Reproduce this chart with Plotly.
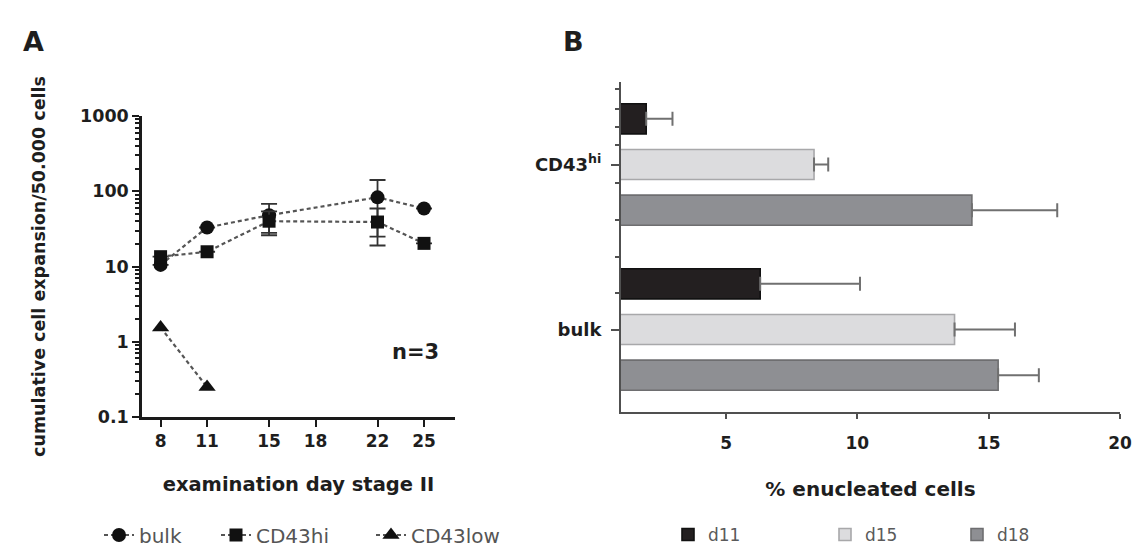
import math
import plotly.graph_objects as go

# ---------------- data: panel A ----------------
days = [8, 11, 15, 22, 25]
bulk = [10.5, 33, 48, 83, 59]
bulk_err = [0, 0, 20, 58, 0]
cd43hi = [13.5, 15.7, 40, 39, 20.3]
cd43hi_err = [0, 0, 14, 20, 0]
low_days = [8, 11]
cd43low = [1.55, 0.25]
x_ticks = [8, 11, 15, 18, 22, 25]

# ---------------- data: panel B ----------------
groups = ["bulk", "CD43hi"]
group_labels = ["bulk", "CD43<sup>hi</sup>"]
d11 = [6.3, 1.96]
d11_err = [3.8, 1.0]
d15 = [13.7, 8.35]
d15_err = [2.3, 0.54]
d18 = [15.36, 14.36]
d18_err = [1.55, 3.25]
b_ticks = [5, 10, 15, 20]

FONT = "DejaVu Sans, Arial, sans-serif"
LINE_COL = "#555555"
W, H = 1136, 549


def px(xp):                  # page pixel -> paper x
    return xp / W


def py(yp):                  # page pixel -> paper y
    return 1 - yp / H


fig = go.Figure()

# ---- Panel A traces ----
common_line = dict(color=LINE_COL, width=2.2, dash="4px,3px")
fig.add_trace(go.Scatter(
    x=days, y=bulk, name="bulk", mode="lines+markers",
    line=common_line,
    marker=dict(symbol="circle", size=14, color="#111111"),
    error_y=dict(type="data", array=bulk_err, color="#333333", thickness=1.8, width=8),
    xaxis="x", yaxis="y", legend="legend"))
fig.add_trace(go.Scatter(
    x=days, y=cd43hi, name="CD43hi", mode="lines+markers",
    line=common_line,
    marker=dict(symbol="square", size=13, color="#111111"),
    error_y=dict(type="data", array=cd43hi_err, color="#333333", thickness=1.8, width=8),
    xaxis="x", yaxis="y", legend="legend2"))
fig.add_trace(go.Scatter(
    x=low_days, y=cd43low, name="CD43low", mode="lines+markers",
    line=common_line,
    marker=dict(symbol="triangle-up", size=15, color="#111111"),
    xaxis="x", yaxis="y", legend="legend3"))

# ---- Panel B traces (bottom-to-top order inside a group: d18, d15, d11) ----
bar_specs = [
    ("d18", d18, d18_err, "#8e8f93", "#6e6e70", "legend6"),
    ("d15", d15, d15_err, "#dcdcde", "#a8a8aa", "legend5"),
    ("d11", d11, d11_err, "#231f20", "#111111", "legend4"),
]
ypos = list(range(len(groups)))
for name, vals, errs, fill, edge, leg_id in bar_specs:
    fig.add_trace(go.Bar(
        y=ypos, x=vals, name=name, orientation="h",
        marker=dict(color=fill, line=dict(color=edge, width=1.6)),
        error_x=dict(type="data", array=errs, arrayminus=[0] * len(errs),
                     symmetric=False, color="#707070", thickness=2, width=7),
        xaxis="x2", yaxis="y2", legend=leg_id))

tickfont = dict(family=FONT, size=17, color="#1e1e1e", weight="bold")


def leg(xpage, size, color="#555555"):
    return dict(orientation="h", x=px(xpage), xanchor="left",
                y=py(535), yanchor="middle",
                font=dict(family=FONT, size=size, color=color),
                bgcolor="rgba(0,0,0,0)", borderwidth=0, visible=True)


fig.update_layout(
    width=W, height=H,
    margin=dict(l=0, r=0, t=0, b=0, autoexpand=False),
    paper_bgcolor="white", plot_bgcolor="white",
    font=dict(family=FONT),
    showlegend=True,
    barmode="group", bargap=0.17, bargroupgap=0.34,
    xaxis=dict(
        domain=[px(142), px(455)], anchor="y",
        range=[6.8, 27], tickvals=x_ticks,
        showgrid=False, zeroline=False,
        showline=True, linecolor="#1a1a1a", linewidth=2.5,
        ticks="outside", ticklen=7, tickwidth=2, tickcolor="#1a1a1a",
        tickfont=tickfont, automargin=False,
        title=dict(text="examination day stage II",
                   font=dict(family=FONT, size=19.5, color="#1e1e1e", weight="bold"),
                   standoff=28),
    ),
    yaxis=dict(
        domain=[py(417), py(116)], anchor="x",
        type="log", range=[-1, 3], tickvals=[0.1, 1, 10, 100, 1000],
        ticktext=["0.1", "1", "10", "100", "1000"],
        showgrid=False, zeroline=False,
        showline=True, linecolor="#1a1a1a", linewidth=2.5,
        ticks="outside", ticklen=7, tickwidth=2, tickcolor="#1a1a1a",
        minor=dict(ticks="outside", ticklen=4, tickwidth=1.5, tickcolor="#1a1a1a", dtick="D1"),
        tickfont=dict(family=FONT, size=17.5, color="#1e1e1e", weight="bold"),
        automargin=False,
        title=dict(text="cumulative cell expansion/50.000 cells",
                   font=dict(family=FONT, size=17.5, color="#1e1e1e", weight="bold"),
                   standoff=30),
    ),
    xaxis2=dict(
        domain=[px(621), px(1120)], anchor="y2",
        range=[1, 20], tickvals=b_ticks,
        showgrid=False, zeroline=False,
        showline=True, linecolor="#505050", linewidth=2,
        ticks="outside", ticklen=5, tickwidth=2, tickcolor="#505050",
        tickfont=tickfont, ticklabelstandoff=10, automargin=False,
        title=dict(text="% enucleated cells",
                   font=dict(family=FONT, size=20, color="#1e1e1e", weight="bold"),
                   standoff=30),
    ),
    yaxis2=dict(
        domain=[py(412), py(82)], anchor="x2",
        range=[-0.5, 1.5], tickvals=ypos, ticktext=group_labels,
        showgrid=False, zeroline=False,
        showline=True, linecolor="#505050", linewidth=2,
        ticks="outside", ticklen=8, tickwidth=1.5, tickcolor="#505050",
        minor=dict(ticks="outside", ticklen=4, tickwidth=1.5, tickcolor="#505050",
                   tickvals=[1.455, 1.339, 1.225, 1.116, 0.888, 0.664, 0.441, 0.219]),
        tickfont=dict(family=FONT, size=18, color="#1e1e1e", weight="bold"),
        ticklabelstandoff=6, automargin=False,
    ),
    legend=leg(99, 20),
    legend2=leg(216, 20),
    legend3=leg(371, 20),
    legend4=leg(668, 17, "#5a5a5a"),
    legend5=leg(825, 17, "#5a5a5a"),
    legend6=leg(957, 17, "#5a5a5a"),
    annotations=[
        dict(text="A", x=px(33), y=py(42), xref="paper", yref="paper",
             xanchor="center", yanchor="middle",
             showarrow=False, font=dict(family=FONT, size=27, color="#1e1e1e", weight="bold")),
        dict(text="B", x=px(573), y=py(42), xref="paper", yref="paper",
             xanchor="center", yanchor="middle",
             showarrow=False, font=dict(family=FONT, size=27, color="#1e1e1e", weight="bold")),
        dict(text="n=3", x=26.1, y=math.log10(0.72), xref="x", yref="y",
             xanchor="right", yanchor="middle",
             showarrow=False, font=dict(family=FONT, size=21, color="#1e1e1e", weight="bold")),
    ],
)

fig.write_html("out.html",
               config={"displayModeBar": False},
               post_script="document.body.style.margin='0px';document.body.style.overflow='hidden';")
